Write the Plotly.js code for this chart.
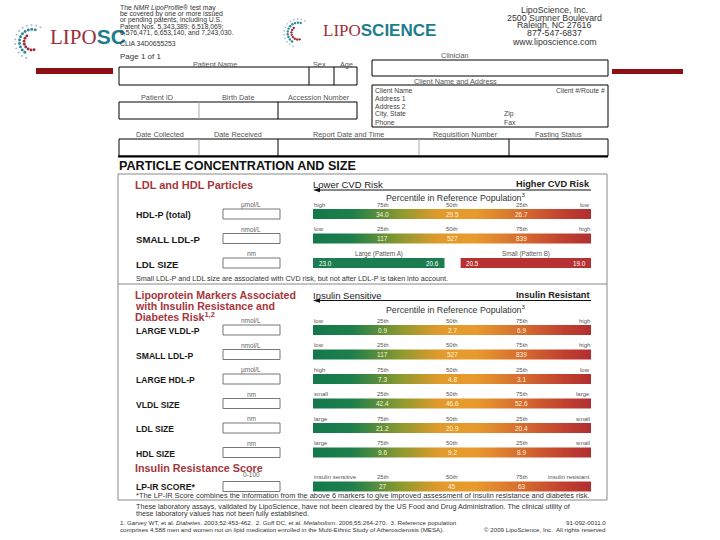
<!DOCTYPE html>
<html><head><meta charset="utf-8">
<script src="https://cdn.plot.ly/plotly-3.0.1.min.js"></script>
<style>html,body{margin:0;padding:0;background:#fff}#chart{width:720px;height:540px}</style>
</head><body><div id="chart"></div>
<script>
// ---------- data ----------
const sec1Rows = ['HDL-P (total)', 'SMALL LDL-P', 'LDL SIZE'];
const sec1Units = ['µmol/L', 'nmol/L', 'nm'];
const sec1LeftEnd = ['high', 'low'];
const sec1RightEnd = ['low', 'high'];
const sec1Pct = [['75th', '50th', '25th'], ['25th', '50th', '75th']];
const sec1Values = [[34.0, 29.5, 26.7], [117, 527, 839]];
const sec1Decimals = [1, 0];
const ldlPatternNames = ['Large (Pattern A)', 'Small (Pattern B)'];
const ldlPatternA = [23.0, 20.6];
const ldlPatternB = [20.5, 19.0];

const sec2Rows = ['LARGE VLDL-P', 'SMALL LDL-P', 'LARGE HDL-P', 'VLDL SIZE', 'LDL SIZE', 'HDL SIZE'];
const sec2Units = ['nmol/L', 'nmol/L', 'µmol/L', 'nm', 'nm', 'nm'];
const sec2LeftEnd = ['low', 'low', 'high', 'small', 'large', 'large'];
const sec2RightEnd = ['high', 'high', 'low', 'large', 'small', 'small'];
const sec2Pct = [['25th','50th','75th'], ['25th','50th','75th'], ['75th','50th','25th'],
                 ['25th','50th','75th'], ['75th','50th','25th'], ['75th','50th','25th']];
const sec2Values = [[0.9, 2.7, 6.9], [117, 527, 839], [7.3, 4.8, 3.1],
                    [42.4, 46.6, 52.6], [21.2, 20.9, 20.4], [9.6, 9.2, 8.9]];
const sec2Decimals = [1, 0, 1, 1, 1, 1];

const lpirRow = 'LP-IR SCORE*';
const lpirUnit = '0-100';
const lpirEnds = ['insulin sensitive', 'insulin resistant'];
const lpirPct = ['25th', '50th', '75th'];
const lpirValues = [27, 45, 63];

const quartiles = [25, 50, 75];

// ---------- layout helpers ----------
const F = 'Liberation Sans, Arial, sans-serif';
const RED = '#a5363c';
const CS = [[0,'#13784c'],[0.14,'#1d7f4b'],[0.32,'#8f9a2f'],[0.45,'#e09a2b'],[0.58,'#e89b2d'],[0.76,'#d56a2f'],[0.9,'#c1412f'],[1,'#b12e31']];
const ann = [], shapes = [], traces = [];

function T(x, y, text, size, color, xa, xref) {
  ann.push({x, y, xref: xref || 'x', yref: 'y', text, showarrow: false,
    xanchor: xa || 'left', yanchor: 'middle', borderpad: 0,
    font: {family: F, size, color: color || '#222'}});
  return ann[ann.length - 1];
}
function rect(x0, y0, x1, y1, color, width, fill) {
  shapes.push({type: 'rect', xref: 'x', yref: 'y', x0, y0, x1, y1,
    line: {color: color || '#000', width: width === undefined ? 1 : width},
    fillcolor: fill || 'rgba(0,0,0,0)'});
}
function line(x0, y0, x1, y1, color, width) {
  shapes.push({type: 'line', xref: 'x', yref: 'y', x0, y0, x1, y1,
    line: {color: color || '#000', width: width || 1}});
}
function arrowLeft(x0, x1, y) {
  line(x0 + 4, y, x1, y, '#111', 1);
  shapes.push({type: 'path', xref: 'x', yref: 'y',
    path: `M ${x0} ${y} L ${x0 + 7} ${y - 2.2} L ${x0 + 7} ${y + 2.2} Z`,
    fillcolor: '#111', line: {width: 0}});
}
function barTrace(p0, p1, top, bot, grad, color) {
  const t = {type: 'scatter', mode: 'lines', xaxis: 'x2', yaxis: 'y',
    x: [p0, p1, p1, p0, p0], y: [top, top, bot, bot, top], fill: 'toself',
    line: {width: 0}, fillcolor: color || '#d08a2c', hoverinfo: 'skip'};
  if (grad) t.fillgradient = {type: 'horizontal', colorscale: CS};
  traces.push(t);
}
function fmt(v, d) { return v.toFixed(d); }

// base trace for main axes
traces.push({type: 'scatter', x: [0, 720], y: [0, 540], mode: 'markers', marker: {opacity: 0}, hoverinfo: 'skip'});

// ---------- logos ----------
function swirl(cx, cy, s) {
  const arcs = [
    {r: 1.0, a0: 60, a1: 250, n: 13, c: '#a9c6d6', sz: 0.13},
    {r: 0.74, a0: 75, a1: 235, n: 11, c: '#2a8797', sz: 0.17},
    {r: 0.47, a0: 130, a1: 285, n: 8, c: '#9c2f3a', sz: 0.17}
  ];
  arcs.forEach(a => {
    const xs = [], ys = [];
    for (let i = 0; i < a.n; i++) {
      const ang = (a.a0 + (a.a1 - a.a0) * i / (a.n - 1)) * Math.PI / 180;
      xs.push(cx + s * a.r * Math.cos(ang));
      ys.push(cy - s * a.r * Math.sin(ang));
    }
    traces.push({type: 'scatter', mode: 'markers', x: xs, y: ys, hoverinfo: 'skip',
      marker: {size: s * a.sz, color: a.c}});
  });
}
swirl(32, 42, 17);
swirl(298, 33, 14);
T(49, 37, '<span style="font-family:Liberation Serif;color:#9c2f3a">LIPO</span><b>SC</b>', 21, '#1d7d8d');
T(322, 30, '<span style="font-family:Liberation Serif;color:#9c2f3a">LIPO</span><b>SCIENCE</b>', 17, '#1d7d8d');

rect(36, 68, 113, 74, '#8c1014', 0, '#8c1014');
rect(612, 69, 683, 74, '#8c1014', 0, '#8c1014');

// ---------- header texts ----------
const hdr = ['The <i>NMR LipoProfile</i>® test may', 'be covered by one or more issued',
  'or pending patents, including U.S.', 'Patent Nos. 5,343,389; 6,518,069;',
  '6,576,471, 6,653,140, and 7,243,030.'];
hdr.forEach((t, i) => T(119, 8 + i * 6, t, 6.8, '#333'));
T(119, 43.5, 'CLIA 34D0655253', 6.8, '#333');
['LipoScience, Inc.', '2500 Sumner Boulevard', 'Raleigh, NC 27616', '877-547-6837'].forEach((t, i) =>
  T(554, 10 + i * 7.6, t, 8.8, '#333', 'center'));
T(554, 42, 'www.liposcience.com', 8.8, '#333', 'center');

T(119, 56, 'Page 1 of 1', 8, '#333');
T(215, 64.5, 'Patient Name', 7.3, '#555', 'center');
T(319, 64.5, 'Sex', 7.3, '#555', 'center');
T(346, 64.5, 'Age', 7.3, '#555', 'center');
rect(119, 67, 357, 85); line(309, 67, 309, 85); line(334, 67, 334, 85);
T(157, 97, 'Patient ID', 7.3, '#555', 'center');
T(238, 97, 'Birth Date', 7.3, '#555', 'center');
T(319, 97, 'Accession Number', 7.3, '#555', 'center');
rect(119, 102, 357, 119); line(199, 102, 199, 119, '#aaa'); line(278, 102, 278, 119);
T(455, 55, 'Clinician', 7.3, '#555', 'center');
rect(372, 60, 608, 76);
T(455, 81.5, 'Client Name and Address', 7.3, '#555', 'center');
rect(372, 85, 608, 127);
T(374, 90, 'Client Name', 6.8, '#444');
T(606, 90, 'Client #/Route #', 6.8, '#444', 'right');
T(374, 98, 'Address 1', 6.8, '#444');
T(374, 106, 'Address 2', 6.8, '#444');
T(374, 114, 'City, State', 6.8, '#444');
T(503, 114, 'Zip', 6.8, '#444');
T(374, 122, 'Phone', 6.8, '#444');
T(503, 122, 'Fax', 6.8, '#444');
[['Date Collected', 160], ['Date Received', 238], ['Report Date and Time', 348],
 ['Requisition Number', 465], ['Fasting Status', 558]].forEach(d => T(d[1], 134.5, d[0], 7.3, '#555', 'center'));
rect(119, 139, 608, 156); line(199, 139, 199, 156, '#aaa'); line(278, 139, 278, 156);
line(419, 139, 419, 156, '#aaa'); line(509, 139, 509, 156);
line(118, 156.5, 608, 156.5, '#000', 2);

T(118, 165.5, '<b>PARTICLE CONCENTRATION AND SIZE</b>', 12.6, '#111');
rect(118, 174, 607, 500, '#888');
line(118, 284, 607, 284, '#888');

// ---------- section 1 ----------
T(134, 185, '<b>LDL and HDL Particles</b>', 11, RED);
T(312, 184, 'Lower CVD Risk', 9.5, '#222');
T(591, 184, '<b>Higher CVD Risk</b>', 9.2, '#222', 'right');
arrowLeft(313, 591, 190);
T(455, 197, 'Percentile in Reference Population<sup>3</sup>', 8.8, '#333', 'center');

function rowCommon(label, unit, top, size, dy) {
  const h = 10;
  T(135, top + h / 2 + (dy === undefined ? 1 : dy), '<b>' + label + '</b>', size, '#1a1a1a');
  const u = T(251, top - 4.5, unit, 6.5, '#666', 'center');
  rect(223, top, 280, top + h, '#777');
  return u;
}
function gradRow(top, leftEnd, rightEnd, pct, vals, dec) {
  const h = 10;
  barTrace(0, 100, top, top + h, true);
  T(0, top - 4.5, leftEnd, 6, '#555', 'left', 'x2');
  T(100, top - 4.5, rightEnd, 6, '#555', 'right', 'x2');
  quartiles.forEach((q, i) => {
    T(q, top - 4.5, pct[i], 6, '#555', 'center', 'x2');
    T(q, top + h / 2, fmt(vals[i], dec), 6.5, '#fff3dc', 'center', 'x2');
  });
}
const sec1Tops = [209, 233.5, 258];
sec1Rows.forEach((r, i) => rowCommon(r, sec1Units[i], sec1Tops[i], i === 0 ? 9 : 9.6));
for (let i = 0; i < 2; i++) gradRow(sec1Tops[i], sec1LeftEnd[i], sec1RightEnd[i], sec1Pct[i], sec1Values[i], sec1Decimals[i]);
// LDL size pattern bars
const lt = sec1Tops[2];
barTrace(0, 47.3, lt, lt + 10, false, '#1c7d50');
barTrace(53.1, 100, lt, lt + 10, false, '#b73133');
T(23.6, lt - 4.5, ldlPatternNames[0], 6.3, '#555', 'center', 'x2');
T(76.5, lt - 4.5, ldlPatternNames[1], 6.3, '#555', 'center', 'x2');
T(1.8, lt + 5, fmt(ldlPatternA[0], 1), 6.3, '#fff', 'left', 'x2');
T(45.8, lt + 5, fmt(ldlPatternA[1], 1), 6.3, '#fff', 'right', 'x2');
T(54.8, lt + 5, fmt(ldlPatternB[0], 1), 6.3, '#fff', 'left', 'x2');
T(98.5, lt + 5, fmt(ldlPatternB[1], 1), 6.3, '#fff', 'right', 'x2');
T(135, 278.5, 'Small LDL-P and LDL size are associated with CVD risk, but not after LDL-P is taken into account.', 7.2, '#333');

// ---------- section 2 ----------
T(134, 295.3, '<b>Lipoprotein Markers Associated</b>', 10.6, RED);
T(134, 306, '<b>with Insulin Resistance and</b>', 10.6, RED);
T(134, 316.7, '<b>Diabetes Risk<sup>1,2</sup></b>', 10.6, RED);
T(312, 295, 'Insulin Sensitive', 9.5, '#222');
T(591, 295, '<b>Insulin Resistant</b>', 9.2, '#222', 'right');
arrowLeft(313, 591, 300.5);
T(455, 308.5, 'Percentile in Reference Population<sup>3</sup>', 8.8, '#333', 'center');
const sec2Tops = [325, 349.5, 374, 398.5, 423, 447.5];
sec2Rows.forEach((r, i) => {
  rowCommon(r, sec2Units[i], sec2Tops[i], 8.6);
  gradRow(sec2Tops[i], sec2LeftEnd[i], sec2RightEnd[i], sec2Pct[i], sec2Values[i], sec2Decimals[i]);
});
T(134, 467.5, '<b>Insulin Resistance Score</b>', 10.8, RED);
const lpTop = 481.5;
const lpUnit = rowCommon(lpirRow, lpirUnit, lpTop, 8.6, 0);
lpUnit.y = 474.5;
gradRow(lpTop, lpirEnds[0], lpirEnds[1], lpirPct, lpirValues, 0);
T(135, 495.2, '*The LP-IR Score combines the information from the above 6 markers to give improved assessment of insulin resistance and diabetes risk.', 7.4, '#333');

// ---------- footer ----------
T(135, 506.5, 'These laboratory assays, validated by LipoScience, have not been cleared by the US Food and Drug Administration. The clinical utility of', 7.2, '#333');
T(135, 513.5, 'these laboratory values has not been fully established.', 7.2, '#333');
T(119, 522, '1. Garvey WT, et al. <i>Diabetes</i>. 2003;52:453-462.  2. Goff DC, et al. <i>Metabolism</i>. 2006;55:264-270.  3. Reference population', 6.2, '#333');
T(119, 529.5, 'comprises 4,588 men and women not on lipid medication enrolled in the Multi-Ethnic Study of Atherosclerosis (MESA).', 6.2, '#333');
T(607, 522, '91-092-0011.0', 6.2, '#333', 'right');
T(607, 529.5, '© 2009 LipoScience, Inc.  All rights reserved', 6.2, '#333', 'right');

const layout = {
  width: 720, height: 540, margin: {l: 0, r: 0, t: 0, b: 0}, showlegend: false,
  paper_bgcolor: '#fff', plot_bgcolor: '#fff',
  xaxis: {range: [0, 720], visible: false, fixedrange: true},
  yaxis: {range: [540, 0], visible: false, fixedrange: true},
  xaxis2: {range: [0, 100], domain: [313 / 720, 591 / 720], anchor: 'y', visible: false, fixedrange: true},
  shapes, annotations: ann
};
Plotly.newPlot('chart', traces, layout, {displayModeBar: false, staticPlot: true});
</script></body></html>
